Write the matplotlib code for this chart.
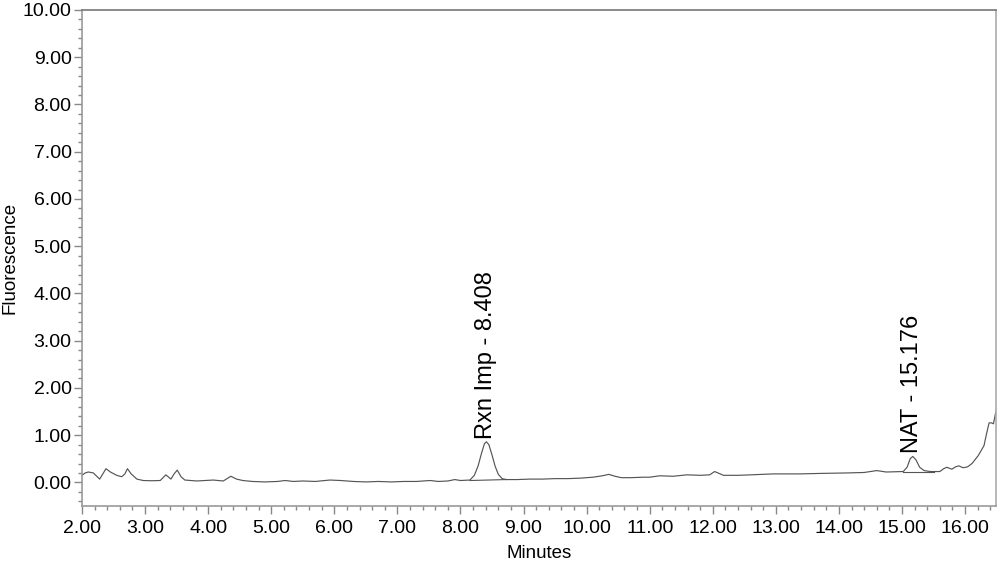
import matplotlib
matplotlib.use("Agg")
import matplotlib.pyplot as plt
from matplotlib.ticker import MultipleLocator, FormatStrFormatter

plt.rcParams['font.family'] = ['Liberation Sans', 'DejaVu Sans']

# Chromatogram trace (minutes, fluorescence)
minutes = [2.00, 2.05, 2.10, 2.18, 2.28, 2.33, 2.38, 2.45, 2.55, 2.63, 2.68, 2.72, 2.78,
           2.87, 2.97, 3.10, 3.24, 3.33, 3.41, 3.46, 3.51, 3.57, 3.63, 3.82, 4.08, 4.24,
           4.30, 4.36, 4.45, 4.55, 4.70, 4.90, 5.10, 5.22, 5.35, 5.50, 5.70, 5.93, 6.10,
           6.30, 6.50, 6.70, 6.90, 7.10, 7.30, 7.52, 7.65, 7.80, 7.91, 8.00, 8.15, 8.22,
           8.28, 8.33, 8.38, 8.41, 8.45, 8.50, 8.55, 8.60, 8.66, 8.73, 8.90, 9.10, 9.30,
           9.50, 9.70, 9.90, 10.10, 10.25, 10.35, 10.45, 10.55, 10.70, 10.90, 11.00,
           11.16, 11.37, 11.59, 11.80, 11.95, 12.03, 12.10, 12.17, 12.40, 12.60, 12.96,
           13.38, 13.70, 14.12, 14.40, 14.60, 14.75, 15.02, 15.08, 15.13, 15.17, 15.22,
           15.28, 15.35, 15.45, 15.60, 15.66, 15.71, 15.79, 15.85, 15.90, 15.97, 16.04,
           16.11, 16.21, 16.30, 16.34, 16.38, 16.42, 16.45, 16.48, 16.50]
fluorescence = [0.15, 0.20, 0.22, 0.20, 0.07, 0.18, 0.29, 0.22, 0.15, 0.12, 0.18, 0.29, 0.18,
                0.07, 0.04, 0.035, 0.04, 0.16, 0.07, 0.18, 0.26, 0.12, 0.05, 0.03, 0.05, 0.03,
                0.08, 0.13, 0.07, 0.04, 0.02, 0.01, 0.02, 0.04, 0.02, 0.03, 0.02, 0.05, 0.04,
                0.02, 0.01, 0.02, 0.01, 0.02, 0.02, 0.04, 0.02, 0.03, 0.06, 0.04, 0.05, 0.15,
                0.35, 0.60, 0.82, 0.86, 0.80, 0.58, 0.34, 0.17, 0.08, 0.06, 0.06, 0.07, 0.07,
                0.08, 0.08, 0.09, 0.11, 0.14, 0.17, 0.13, 0.10, 0.10, 0.11, 0.11,
                0.14, 0.13, 0.16, 0.15, 0.16, 0.23, 0.19, 0.15, 0.15, 0.16, 0.18,
                0.18, 0.19, 0.20, 0.21, 0.25, 0.22, 0.23, 0.32, 0.50, 0.55, 0.48,
                0.32, 0.25, 0.23, 0.23, 0.29, 0.32, 0.28, 0.33, 0.35, 0.31, 0.33,
                0.40, 0.57, 0.78, 1.03, 1.26, 1.26, 1.24, 1.45, 1.55]

# Integration baselines under labelled peaks
rxn_base_t = [8.15, 8.73]
rxn_base_v = [0.04, 0.06]
nat_base_t = [15.02, 15.50]
nat_base_v = [0.23, 0.23]

peak_labels = ["Rxn Imp - 8.408", "NAT - 15.176"]
peak_t = [8.408, 15.165]
peak_label_v = [0.92, 0.62]

fig = plt.figure(figsize=(10, 5.61), dpi=100)
ax = fig.add_axes([0.082, 0.098, 0.914, 0.8842])

line_c = '#555555'
ax.plot(minutes, fluorescence, color=line_c, lw=0.85)
ax.plot(rxn_base_t, rxn_base_v, color=line_c, lw=0.8)
ax.plot(nat_base_t, nat_base_v, color=line_c, lw=0.8)

for lab, t, v in zip(peak_labels, peak_t, peak_label_v):
    ax.text(t, v, lab, rotation=90, ha='center', va='bottom', fontsize=17, color='black')

ax.set_xlim(2.0, 16.49)
ax.set_ylim(-0.5, 10.0)

ax.xaxis.set_major_locator(MultipleLocator(1.0))
ax.xaxis.set_minor_locator(MultipleLocator(0.2))
ax.yaxis.set_major_locator(MultipleLocator(1.0))
ax.yaxis.set_minor_locator(MultipleLocator(0.2))
ax.xaxis.set_major_formatter(FormatStrFormatter('%.2f'))
ax.yaxis.set_major_formatter(FormatStrFormatter('%.2f'))

tick_c = '#888888'
ax.tick_params(axis='both', which='major', length=6, width=1, color=tick_c,
               labelsize=14, labelcolor='black', direction='out')
ax.tick_params(axis='both', which='minor', length=3, width=1, color=tick_c, direction='out')
ax.tick_params(axis='x', which='major', pad=4)
ax.tick_params(axis='y', which='major', pad=1.5)

ax.spines['left'].set_color('#999999')
ax.spines['bottom'].set_color('#999999')
ax.spines['top'].set_color('#777777')
ax.spines['right'].set_color('#aaaaaa')
for s in ax.spines.values():
    s.set_linewidth(1.2)

ax.set_xlabel('Minutes', fontsize=13.5, labelpad=6)
ax.set_ylabel('Fluorescence', fontsize=13.5, labelpad=3)

fig.savefig('out.png', dpi=100)
